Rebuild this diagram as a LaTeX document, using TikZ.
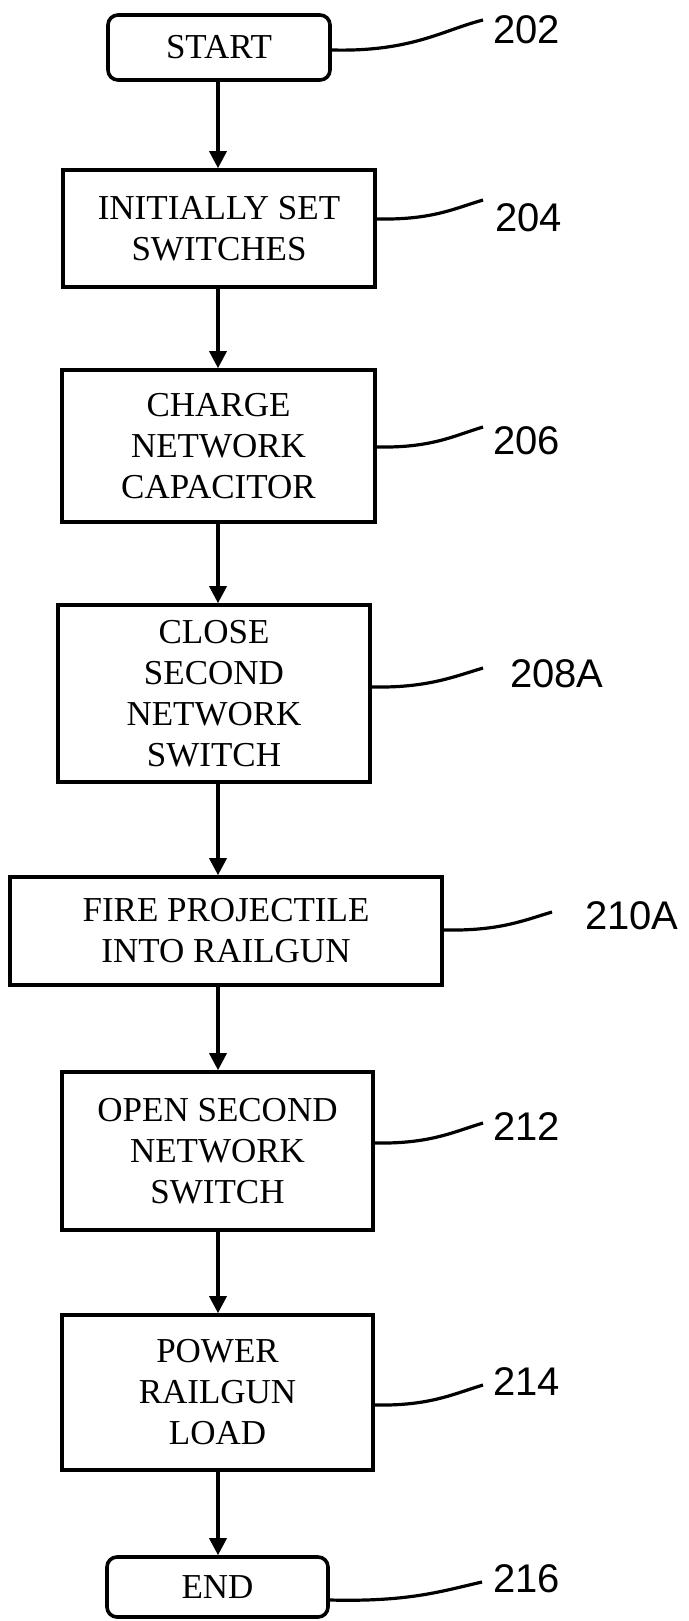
\documentclass[tikz,border=0pt]{standalone}
\usepackage{fontspec}
\setmainfont{Liberation Serif}
\newfontfamily\labelfont{Liberation Sans}
\usetikzlibrary{arrows.meta}
\begin{document}
\begin{tikzpicture}[x=1pt,y=-1pt,
 box/.style={draw, line width=3.6pt, inner sep=0pt, align=center, font=\fontsize{35}{41}\selectfont},
 term/.style={box, rounded corners=10pt},
 refl/.style={font=\labelfont\fontsize{40}{40}\selectfont, anchor=west, inner sep=0pt},
 flow/.style={line width=3.4pt, -{Triangle[length=17pt,width=17pt]}},
 lead/.style={line width=3.2pt}]
\useasboundingbox[fill=white] (0,0) rectangle (688,1621);
% boxes
\node[term, minimum width=222pt, minimum height=65pt] (start) at (219,47.5) {START};
\node[box, minimum width=312pt, minimum height=117pt] (s204) at (219,228.5) {INITIALLY SET\\SWITCHES};
\node[box, minimum width=313pt, minimum height=152pt] (s206) at (218.5,446) {CHARGE\\NETWORK\\CAPACITOR};
\node[box, minimum width=312pt, minimum height=177pt] (s208) at (214,693.5) {CLOSE\\SECOND\\NETWORK\\SWITCH};
\node[box, minimum width=432pt, minimum height=108pt] (s210) at (226,931) {FIRE PROJECTILE\\INTO RAILGUN};
\node[box, minimum width=311pt, minimum height=158pt] (s212) at (217.5,1151) {OPEN SECOND\\NETWORK\\SWITCH};
\node[box, minimum width=311pt, minimum height=155pt] (s214) at (217.5,1392.5) {POWER\\RAILGUN\\LOAD};
\node[term, minimum width=221pt, minimum height=60pt] (end) at (217.5,1587) {END};
% flow arrows
\coordinate (X) at (218,0);
\draw[flow] (start.south -| X) -- (s204.north -| X);
\draw[flow] (s204.south -| X) -- (s206.north -| X);
\draw[flow] (s206.south -| X) -- (s208.north -| X);
\draw[flow] (s208.south -| X) -- (s210.north -| X);
\draw[flow] (s210.south -| X) -- (s212.north -| X);
\draw[flow] (s212.south -| X) -- (s214.north -| X);
\draw[flow] (s214.south -| X) -- (end.north -| X);
% reference labels
\node[refl] (r202) at (493,30) {202};
\node[refl] (r204) at (495,218) {204};
\node[refl] (r206) at (493,441) {206};
\node[refl] (r208) at (510,674) {208A};
\node[refl] (r210) at (585,916) {210A};
\node[refl] (r212) at (493,1127) {212};
\node[refl] (r214) at (493,1382) {214};
\node[refl] (r216) at (493,1579) {216};
% leader ends
\coordinate (e202) at (483,20);
\coordinate (e204) at (483,200);
\coordinate (e206) at (483,427);
\coordinate (e208) at (483,668);
\coordinate (e210) at (552,912);
\coordinate (e212) at (483,1123);
\coordinate (e214) at (483,1385);
\coordinate (e216) at (482,1582);
% leaders
\draw[lead] (start.east |- 0,50) .. controls +(80,2) and +(-40,10) .. (e202);
\draw[lead] (s204.east |- 0,219) .. controls +(55,1) and +(-30,9) .. (e204);
\draw[lead] (s206.east |- 0,447) .. controls +(55,1) and +(-30,9) .. (e206);
\draw[lead] (s208.east |- 0,687) .. controls +(55,1) and +(-30,9) .. (e208);
\draw[lead] (s210.east |- 0,930) .. controls +(55,1) and +(-30,9) .. (e210);
\draw[lead] (s212.east |- 0,1143) .. controls +(55,1) and +(-30,9) .. (e212);
\draw[lead] (s214.east |- 0,1405) .. controls +(55,1) and +(-30,9) .. (e214);
\draw[lead] (end.east |- 0,1600) .. controls +(80,2) and +(-40,9) .. (e216);
\end{tikzpicture}
\end{document}
